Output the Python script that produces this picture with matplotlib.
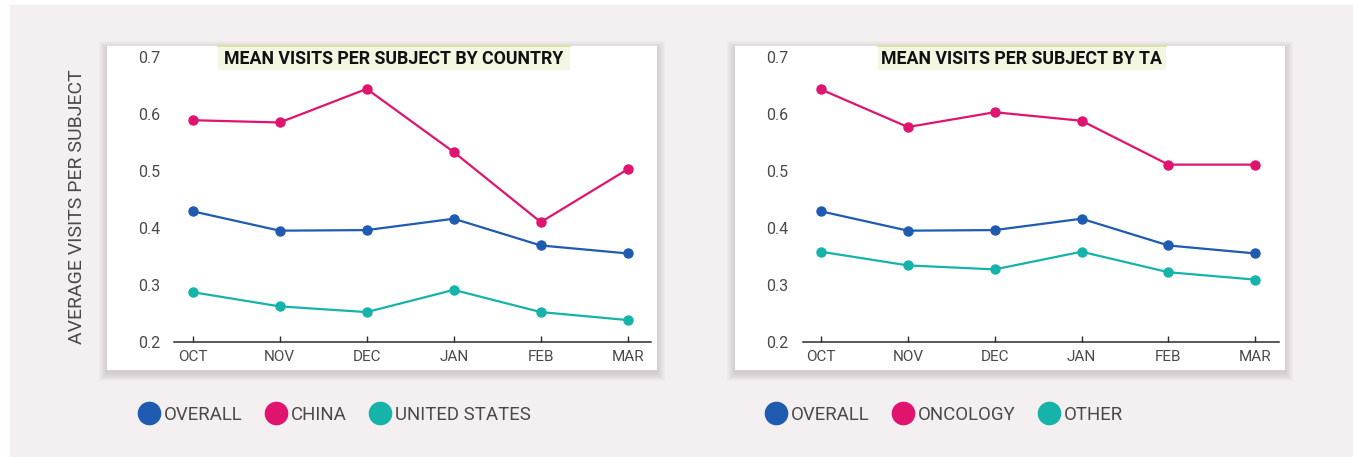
import matplotlib
matplotlib.use("Agg")
import matplotlib.pyplot as plt
from matplotlib.patches import Rectangle
from matplotlib.lines import Line2D

plt.rcParams["font.family"] = ["Roboto", "DejaVu Sans"]

# ---------------------------------------------------------------------------
# data
# ---------------------------------------------------------------------------
months = ["OCT", "NOV", "DEC", "JAN", "FEB", "MAR"]

overall = [0.429, 0.395, 0.396, 0.416, 0.369, 0.355]
china = [0.589, 0.585, 0.644, 0.533, 0.410, 0.503]
united_states = [0.287, 0.262, 0.252, 0.291, 0.252, 0.238]

oncology = [0.643, 0.577, 0.603, 0.588, 0.511, 0.511]
other = [0.358, 0.334, 0.327, 0.358, 0.322, 0.309]

yticks = [0.2, 0.3, 0.4, 0.5, 0.6, 0.7]

BLUE = "#1f5bb0"
PINK = "#e0136f"
TEAL = "#16b3aa"
BG = "#f4eff0"
TXT = "#4a4a4a"

W, H = 1353, 457
fig = plt.figure(figsize=(W / 100, H / 100), dpi=100)
fig.patch.set_facecolor("white")


def fx(x):
    return x / W


def fy(y):
    return 1 - y / H


def frect(x0, y0, x1, y1, **kw):
    """Rectangle in figure pixels (top-left origin)."""
    r = Rectangle((fx(x0), fy(y1)), fx(x1) - fx(x0), fy(y0) - fy(y1),
                  transform=fig.transFigure, **kw)
    fig.patches.append(r)
    return r


# background panel
frect(10, 5, W, H, facecolor=BG, edgecolor="none", zorder=0)


def card(x0, y0, x1, y1):
    # soft shadow, heavier below
    for i in range(1, 9):
        frect(x0 - i, y0 - i + 3, x1 + i, y1 + i + 3,
              facecolor="#7a6f72", edgecolor="none", alpha=0.03, zorder=1)
    frect(x0, y0, x1, y1, facecolor="white", edgecolor="none", zorder=2)


def panel(ax_box, xlim, series, title, title_box, legend_x):
    left, right, top, bottom = ax_box
    ax = fig.add_axes([fx(left), fy(bottom), fx(right) - fx(left), fy(top) - fy(bottom)])
    ax.set_facecolor("none")
    ax.set_zorder(5)
    x = list(range(len(months)))
    for vals, col, _ in series:
        ax.plot(x, vals, color=col, lw=1.6, marker="o", ms=6.5,
                mec=col, mfc=col, clip_on=False, zorder=3)
    ax.set_xlim(*xlim)
    ax.set_ylim(yticks[0], yticks[-1])
    ax.set_xticks(x)
    ax.set_xticklabels(months)
    ax.set_yticks(yticks)
    ax.set_yticklabels([f"{v:.1f}" for v in yticks])
    for s in ("top", "right", "left"):
        ax.spines[s].set_visible(False)
    ax.spines["bottom"].set_color("#2b2b2b")
    ax.spines["bottom"].set_linewidth(1.1)
    ax.tick_params(axis="x", direction="in", length=4.5, width=1, color="#2b2b2b",
                   pad=6, labelsize=11, labelcolor=TXT)
    ax.tick_params(axis="y", length=0, pad=10, labelsize=11.5, labelcolor=TXT)

    # title with highlight box
    bx0, bx1, by0, by1 = title_box
    frect(bx0, by0, bx1, by1, facecolor="#f3f7e1", edgecolor="none", zorder=6)
    fig.add_artist(Line2D([fx(bx0), fx(bx1)], [fy(by0), fy(by0)], transform=fig.transFigure,
                          color="#d4e59a", lw=1.2, zorder=7))
    fig.text(fx((bx0 + bx1) / 2), fy((by0 + by1) / 2 + 0.5), title, ha="center", va="center",
             fontsize=12.8, fontweight="bold", color="#111111", zorder=8)

    handles = [Line2D([], [], ls="none", marker="o", ms=16, color=col) for _, col, _ in series]
    labels = [lab for _, _, lab in series]
    leg = fig.legend(handles, labels, loc="center left", bbox_to_anchor=(fx(legend_x), fy(415)),
                     ncol=3, frameon=False, fontsize=13.4, handlelength=1.0,
                     handletextpad=0.3, columnspacing=1.3, borderpad=0, borderaxespad=0)
    for t in leg.get_texts():
        t.set_color(TXT)
    return ax


card(107, 46, 657, 370)
card(735, 46, 1285, 370)

panel((173.8, 650.7, 57, 341.7), (-0.217, 5.263),
      [(overall, BLUE, "OVERALL"), (china, PINK, "CHINA"), (united_states, TEAL, "UNITED STATES")],
      "MEAN VISITS PER SUBJECT BY COUNTRY", (218, 570, 46, 70), 139.5)

panel((802.5, 1279, 57, 341.7), (-0.213, 5.273),
      [(overall, BLUE, "OVERALL"), (oncology, PINK, "ONCOLOGY"), (other, TEAL, "OTHER")],
      "MEAN VISITS PER SUBJECT BY TA", (877.5, 1166, 46, 70), 766.8)

fig.text(fx(77), fy(207), "AVERAGE VISITS PER SUBJECT", rotation=90, ha="center", va="center",
         fontsize=14, color=TXT)

fig.savefig("out.png", dpi=100, facecolor=fig.get_facecolor())
